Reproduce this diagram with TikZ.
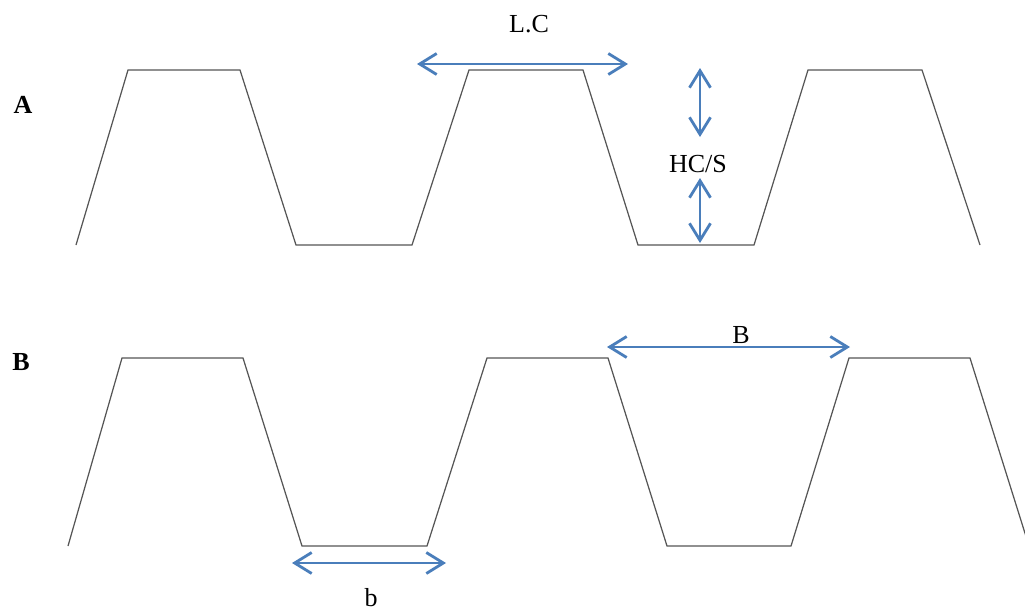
\documentclass[tikz,border=0pt]{standalone}
\usepackage{fontspec}
\setmainfont{Liberation Serif}
\usetikzlibrary{arrows.meta}
\definecolor{tracado}{HTML}{555555}
\definecolor{azul}{HTML}{4A7EBB}

\begin{document}
\begin{tikzpicture}[x=0.02cm, y=-0.02cm,
  font=\fontsize{14.8}{17}\selectfont,
  perfil/.style={draw=tracado, line width=0.7pt, line join=miter},
  cota/.style={{Straight Barb[length=3.4mm, width=4.2mm]}-{Straight Barb[length=3.4mm, width=4.2mm]}, draw=azul, line width=1.6pt},
  rotulo/.style={anchor=base, inner sep=0pt},
  letra/.style={rotulo, font=\fontsize{14.8}{17}\selectfont\bfseries}]
\clip (0,0) rectangle (1025,609);
% ---- perfil A
\draw[perfil] (76,245) -- (128,70) -- (240,70) -- (296,245) -- (412,245) -- (469,70) -- (583,70)
  -- (638,245) -- (754,245) -- (808,70) -- (922,70) -- (980,245);
% ---- perfil B
\draw[perfil] (68,546) -- (122,358) -- (243,358) -- (302,546) -- (427,546) -- (487,358) -- (608,358)
  -- (667,546) -- (791,546) -- (849,358) -- (970,358) -- (1029,546);
% ---- rotulos
\node[letra] (pa) at (23,113) {A};
\node[letra] (pb) at (21,370) {B};
\node[rotulo] (lc) at (529,32) {L.C};
\node[rotulo] (hcs) at (698,172) {HC/S};
\node[rotulo] (bmaior) at (741,343) {B};
\node[rotulo] (bmenor) at (371,606) {b};
% ---- cotas
\coordinate (lc1) at (417,64);  \coordinate (lc2) at (628,64);
\coordinate (hs1) at (700,68);  \coordinate (hs2) at (700,137);
\coordinate (hs3) at (700,178); \coordinate (hs4) at (700,243);
\coordinate (bm1) at (607,347); \coordinate (bm2) at (850,347);
\coordinate (bn1) at (292,563); \coordinate (bn2) at (446,563);
\draw[cota] (lc1) -- (lc2);
\draw[cota] (hs1) -- (hs2);
\draw[cota] (hs3) -- (hs4);
\draw[cota] (bm1) -- (bm2);
\draw[cota] (bn1) -- (bn2);
\end{tikzpicture}
\end{document}
